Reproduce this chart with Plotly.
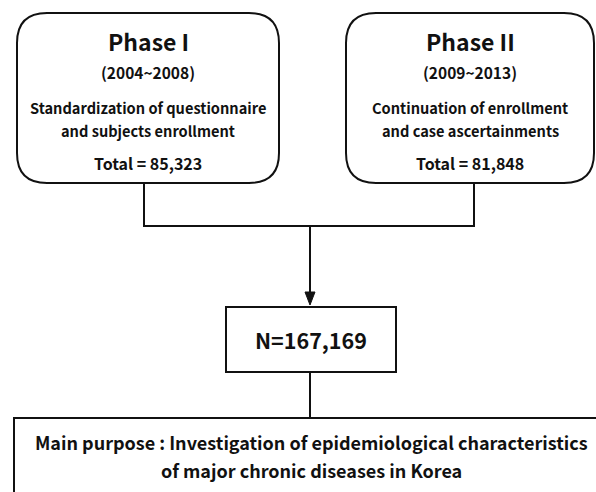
import plotly.graph_objects as go

# ---- content ----
phase_titles = ["Phase I", "Phase II"]
phase_years = ["(2004~2008)", "(2009~2013)"]
phase_desc = [["Standardization of questionnaire", "and subjects enrollment"],
              ["Continuation of enrollment", "and case ascertainments"]]
phase_totals = ["Total = 85,323", "Total = 81,848"]
combined_label = "N=167,169"
purpose_lines = ["Main purpose : Investigation of epidemiological characteristics",
                 "of major chronic diseases in Korea"]

W, H = 596, 492
FONT = "Noto Sans CJK KR, Open Sans, sans-serif"
LW = 2
COL = "#111111"

fig = go.Figure()
fig.add_trace(go.Scatter(x=[0, W], y=[0, H], mode="markers", marker=dict(opacity=0), hoverinfo="skip", showlegend=False))

def rounded_rect(x0, y0, x1, y1, r):
    return (f"M {x0+r},{y0} L {x1-r},{y0} Q {x1},{y0} {x1},{y0+r} "
            f"L {x1},{y1-r} Q {x1},{y1} {x1-r},{y1} L {x0+r},{y1} "
            f"Q {x0},{y1} {x0},{y1-r} L {x0},{y0+r} Q {x0},{y0} {x0+r},{y0} Z")

boxes = [(17, 13, 279, 183), (346, 13, 594, 183)]
shapes = []
annots = []
for i, (x0, y0, x1, y1) in enumerate(boxes):
    shapes.append(dict(type="path", path=rounded_rect(x0, y0, x1, y1, 30),
                       line=dict(color=COL, width=LW), fillcolor="white"))
    cx = (x0 + x1) / 2
    annots.append(dict(x=cx, y=41, text=f"<b>{phase_titles[i]}</b>", font=dict(size=23)))
    annots.append(dict(x=cx, y=72, text=f"<b>{phase_years[i]}</b>", font=dict(size=15.5)))
    annots.append(dict(x=cx, y=107, text=f"<b>{phase_desc[i][0]}</b>", font=dict(size=14.6)))
    annots.append(dict(x=cx, y=130, text=f"<b>{phase_desc[i][1]}</b>", font=dict(size=14.6)))
    annots.append(dict(x=cx, y=163, text=f"<b>{phase_totals[i]}</b>", font=dict(size=16)))

# connectors
shapes.append(dict(type="line", x0=144, y0=183, x1=144, y1=226, line=dict(color=COL, width=LW)))
shapes.append(dict(type="line", x0=474, y0=183, x1=474, y1=226, line=dict(color=COL, width=LW)))
shapes.append(dict(type="line", x0=143, y0=226, x1=475, y1=226, line=dict(color=COL, width=LW)))
shapes.append(dict(type="line", x0=310, y0=226, x1=310, y1=296, line=dict(color=COL, width=LW)))
shapes.append(dict(type="path", path="M 305,292 L 315,292 L 310,305 Z", line=dict(color=COL, width=1), fillcolor=COL))

# N box
shapes.append(dict(type="rect", x0=226, y0=307, x1=396, y1=372, line=dict(color=COL, width=LW), fillcolor="white"))
annots.append(dict(x=311, y=339, text=f"<b>{combined_label}</b>", font=dict(size=21.5)))

shapes.append(dict(type="line", x0=310, y0=372, x1=310, y1=418, line=dict(color=COL, width=LW)))

# bottom box (cut off)
shapes.append(dict(type="rect", x0=14, y0=418, x1=640, y1=540, line=dict(color=COL, width=LW), fillcolor="white"))
annots.append(dict(x=311, y=442, text=f"<b>{purpose_lines[0]}</b>", font=dict(size=18)))
annots.append(dict(x=311, y=470, text=f"<b>{purpose_lines[1]}</b>", font=dict(size=18)))

for a in annots:
    a.update(xref="x", yref="y", showarrow=False, xanchor="center", yanchor="middle")
    a["font"].update(family=FONT, color="#111111")

fig.update_layout(
    width=W, height=H, margin=dict(l=0, r=0, t=0, b=0),
    paper_bgcolor="white", plot_bgcolor="white",
    xaxis=dict(range=[0, W], visible=False, fixedrange=True),
    yaxis=dict(range=[H, 0], visible=False, fixedrange=True),
    shapes=shapes, annotations=annots, showlegend=False,
)
fig.write_html("out.html", config={"displayModeBar": False},
               post_script="document.body.style.margin='0';document.body.style.overflow='hidden';")
